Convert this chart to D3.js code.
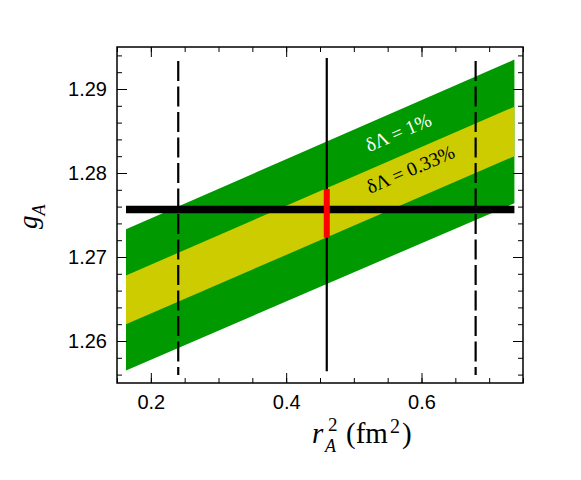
<!DOCTYPE html>
<html>
<head>
<meta charset="utf-8">
<script src="https://cdn.jsdelivr.net/npm/d3@7"></script>
<style>
  body { margin: 0; background: #fff; }
  svg { display: block; }
</style>
</head>
<body>
<div id="chart"></div>
<script>
// band edges, sampled at the two ends of the r_A^2 range
const bandX = [0.1633, 0.7373];
const outerLow = [1.2565, 1.2764];
const outerHigh = [1.2733, 1.2935];
const innerLow = [1.2620, 1.2820];
const innerHigh = [1.2678, 1.2879];

// g_A measurement (horizontal bar)
const gAValue = 1.27565;
const gAExtent = [0.1633, 0.7373];

// r_A^2 central value and bounds
const rCenter = 0.46;
const rCenterY = [1.2564, 1.2937];
const rBounds = [0.2405, 0.68];
const rBoundsY = [1.25595, 1.29333];
const overlapY = [1.2723, 1.2781];

const xTicks = [0.2, 0.4, 0.6];
const yTicks = [1.26, 1.27, 1.28, 1.29];
const xMinor = d3.range(0.15, 0.7501, 0.05).map(v => +v.toFixed(2));
const yMinor = d3.range(1.256, 1.2951, 0.002).map(v => +v.toFixed(3));

const labels = [
  { text: 'δΛ = 1%', x: 0.567, y: 1.2846, color: '#fff' },
  { text: 'δΛ = 0.33%', x: 0.585, y: 1.2802, color: '#000' }
];

const width = 581, height = 480;
const margin = { top: 47, right: 58, bottom: 97, left: 117 };
const innerW = width - margin.left - margin.right;
const innerH = height - margin.top - margin.bottom;

const x = d3.scaleLinear().domain([0.15, 0.75]).range([0, innerW]);
const y = d3.scaleLinear().domain([1.255, 1.295]).range([innerH, 0]);

const svg = d3.select('#chart').append('svg')
  .attr('width', width)
  .attr('height', height);

const g = svg.append('g')
  .attr('transform', `translate(${margin.left},${margin.top})`);

const green = '#009900';
const yellow = '#cccc00';

const band = (lo, hi) => d3.area()
  .x((d, i) => x(bandX[i]))
  .y0((d, i) => y(lo[i]))
  .y1((d, i) => y(hi[i]))(bandX);

g.append('path').attr('d', band(outerLow, outerHigh)).attr('fill', green);
g.append('path').attr('d', band(innerLow, innerHigh)).attr('fill', yellow);

// dashed bounds
g.selectAll('line.bound')
  .data(rBounds)
  .join('line')
  .attr('class', 'bound')
  .attr('x1', d => x(d)).attr('x2', d => x(d))
  .attr('y1', y(rBoundsY[1])).attr('y2', y(rBoundsY[0]))
  .attr('stroke', '#000')
  .attr('stroke-width', 2.2)
  .attr('stroke-dasharray', '20 5.5');

// thick horizontal g_A line
g.append('line')
  .attr('x1', x(gAExtent[0])).attr('x2', x(gAExtent[1]))
  .attr('y1', y(gAValue)).attr('y2', y(gAValue))
  .attr('stroke', '#000')
  .attr('stroke-width', 7.6);

// central r_A^2 line
g.append('line')
  .attr('x1', x(rCenter)).attr('x2', x(rCenter))
  .attr('y1', y(rCenterY[1])).attr('y2', y(rCenterY[0]))
  .attr('stroke', '#000')
  .attr('stroke-width', 2.2);

// overlap segment
g.append('line')
  .attr('x1', x(rCenter)).attr('x2', x(rCenter))
  .attr('y1', y(overlapY[1])).attr('y2', y(overlapY[0]))
  .attr('stroke', '#ff0000')
  .attr('stroke-width', 6);

// band labels, rotated along the band
const angle = -Math.atan(
  ((y(outerLow[0]) - y(outerLow[1])) / (x(bandX[1]) - x(bandX[0])))
) * 180 / Math.PI;

g.selectAll('text.band-label')
  .data(labels)
  .join('text')
  .attr('class', 'band-label')
  .attr('transform', d => `translate(${x(d.x)},${y(d.y)}) rotate(${angle})`)
  .attr('text-anchor', 'middle')
  .attr('dominant-baseline', 'middle')
  .attr('font-family', '"Liberation Serif", serif')
  .attr('font-size', 19.5)
  .attr('fill', d => d.color)
  .attr('xml:space', 'preserve')
  .text(d => d.text);

// axes, ticks pointing inwards on all four sides
const tickFont = '"Liberation Sans", Arial, sans-serif';

function styleAxis(sel) {
  sel.select('.domain').remove();
  sel.selectAll('.tick line').attr('stroke', '#000').attr('stroke-width', 1);
  sel.selectAll('.tick text')
    .attr('font-family', tickFont)
    .attr('font-size', 20)
    .attr('fill', '#000');
}

// minor ticks
g.append('g').attr('transform', `translate(0,${innerH})`)
  .call(d3.axisBottom(x).tickValues(xMinor).tickSize(-5).tickFormat(''))
  .call(styleAxis);
g.append('g')
  .call(d3.axisTop(x).tickValues(xMinor).tickSize(-5).tickFormat(''))
  .call(styleAxis);
g.append('g')
  .call(d3.axisLeft(y).tickValues(yMinor).tickSize(-5).tickFormat(''))
  .call(styleAxis);
g.append('g').attr('transform', `translate(${innerW},0)`)
  .call(d3.axisRight(y).tickValues(yMinor).tickSize(-5).tickFormat(''))
  .call(styleAxis);

// major ticks
g.append('g').attr('transform', `translate(0,${innerH})`)
  .call(d3.axisBottom(x).tickValues(xTicks).tickSize(-10).tickPadding(12).tickFormat(d3.format('.1f')))
  .call(styleAxis);
g.append('g')
  .call(d3.axisTop(x).tickValues(xTicks).tickSize(-10).tickFormat(''))
  .call(styleAxis);
g.append('g')
  .call(d3.axisLeft(y).tickValues(yTicks).tickSize(-10).tickPadding(10).tickFormat(d3.format('.2f')))
  .call(styleAxis);
g.append('g').attr('transform', `translate(${innerW},0)`)
  .call(d3.axisRight(y).tickValues(yTicks).tickSize(-10).tickFormat(''))
  .call(styleAxis);

// frame
g.append('rect')
  .attr('width', innerW)
  .attr('height', innerH)
  .attr('fill', 'none')
  .attr('stroke', '#000')
  .attr('stroke-width', 1.5);

// axis titles
const serif = '"Liberation Serif", "Times New Roman", serif';

const xTitle = svg.append('text')
  .attr('x', 312)
  .attr('y', 443)
  .attr('font-family', serif)
  .attr('font-size', 29)
  .attr('fill', '#000');
xTitle.append('tspan').attr('font-style', 'italic').text('r');
xTitle.append('tspan').attr('x', 328).attr('dy', -12).attr('font-size', 19).text('2');
xTitle.append('tspan').attr('x', 325).attr('dy', 21).attr('font-size', 18).attr('font-style', 'italic').text('A');
xTitle.append('tspan').attr('x', 346).attr('dy', -9).text('(fm');
xTitle.append('tspan').attr('dx', 2).attr('dy', -10).attr('font-size', 20).text('2');
xTitle.append('tspan').attr('dx', 2).attr('dy', 10).text(')');

const yTitle = svg.append('text')
  .attr('transform', 'translate(37,229) rotate(-90)')
  .attr('font-family', serif)
  .attr('font-size', 27)
  .attr('fill', '#000');
yTitle.append('tspan').attr('font-style', 'italic').text('g');
yTitle.append('tspan').attr('dy', 8).attr('font-size', 18).attr('font-style', 'italic').text('A');
</script>
</body>
</html>
